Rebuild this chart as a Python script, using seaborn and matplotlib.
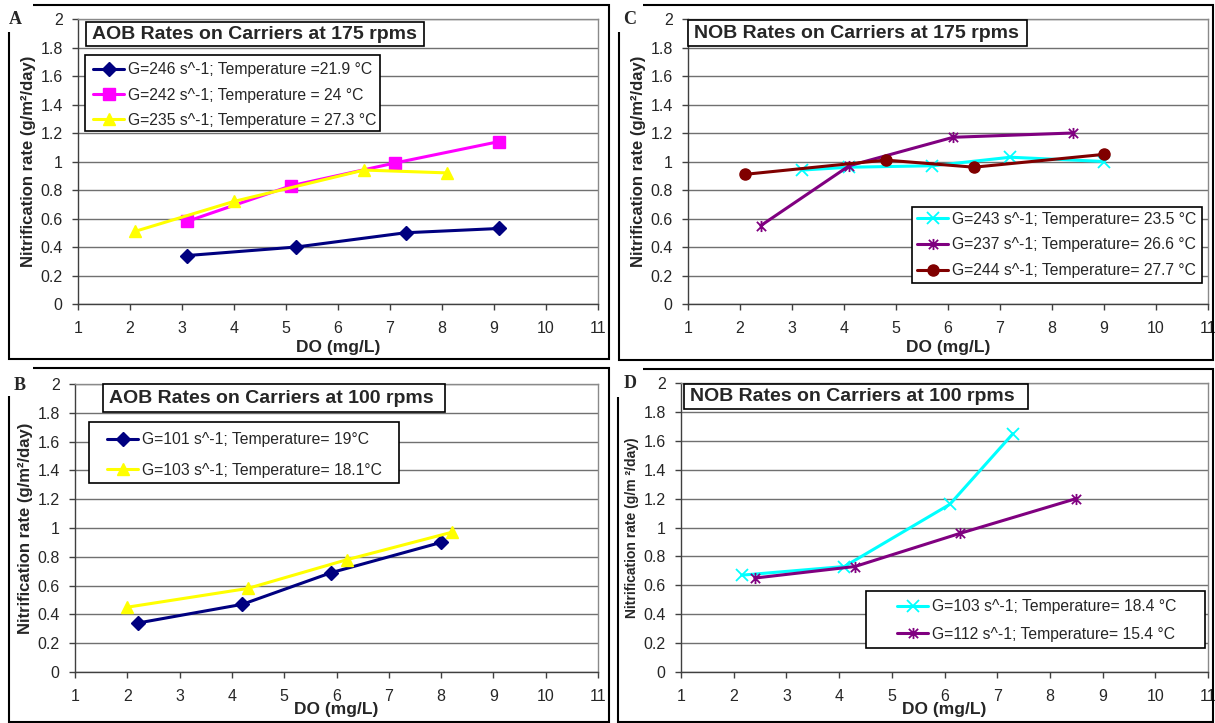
import matplotlib
matplotlib.use("Agg")
import matplotlib.pyplot as plt
import seaborn as sns
import pandas as pd
from matplotlib.path import Path
from matplotlib.patches import Rectangle
from matplotlib.ticker import FuncFormatter

sns.set_theme(style="white")
plt.rcParams["font.family"] = ["Liberation Sans", "DejaVu Sans"]

# ---------------- data ----------------
# Panel A : AOB 175 rpm
a_do_1 = [3.1, 5.2, 7.3, 9.1]
a_rate_1 = [0.34, 0.40, 0.50, 0.53]
a_do_2 = [3.1, 5.1, 7.1, 9.1]
a_rate_2 = [0.58, 0.83, 0.99, 1.14]
a_do_3 = [2.1, 4.0, 6.5, 8.1]
a_rate_3 = [0.51, 0.72, 0.94, 0.92]
a_labels = ["G=246 s^-1; Temperature =21.9 °C",
            "G=242 s^-1; Temperature = 24 °C",
            "G=235 s^-1; Temperature = 27.3 °C"]

# Panel C : NOB 175 rpm
c_do_1 = [3.2, 4.1, 5.7, 7.2, 9.0]
c_rate_1 = [0.94, 0.96, 0.97, 1.03, 1.00]
c_do_2 = [2.4, 4.1, 6.1, 8.4]
c_rate_2 = [0.55, 0.97, 1.17, 1.20]
c_do_3 = [2.1, 4.8, 6.5, 9.0]
c_rate_3 = [0.91, 1.01, 0.96, 1.05]
c_labels = ["G=243 s^-1; Temperature= 23.5 °C",
            "G=237 s^-1; Temperature= 26.6 °C",
            "G=244 s^-1; Temperature= 27.7 °C"]

# Panel B : AOB 100 rpm
b_do_1 = [2.2, 4.2, 5.9, 8.0]
b_rate_1 = [0.34, 0.47, 0.69, 0.90]
b_do_2 = [2.0, 4.3, 6.2, 8.2]
b_rate_2 = [0.45, 0.58, 0.78, 0.97]
b_labels = ["G=101 s^-1; Temperature= 19°C",
            "G=103 s^-1; Temperature= 18.1°C"]

# Panel D : NOB 100 rpm
d_do_1 = [2.15, 4.1, 6.1, 7.3]
d_rate_1 = [0.67, 0.73, 1.16, 1.65]
d_do_2 = [2.4, 4.3, 6.3, 8.5]
d_rate_2 = [0.65, 0.73, 0.96, 1.20]
d_labels = ["G=103 s^-1; Temperature= 18.4 °C",
            "G=112 s^-1; Temperature= 15.4 °C"]

titles = ["AOB Rates on Carriers at 175 rpms",
          "NOB Rates on Carriers at 175 rpms",
          "AOB Rates on Carriers at 100 rpms",
          "NOB Rates on Carriers at 100 rpms"]
panel_letters = ["A", "C", "B", "D"]
x_ticks = list(range(1, 12))
y_ticks = [0, 0.2, 0.4, 0.6, 0.8, 1, 1.2, 1.4, 1.6, 1.8, 2]

# ---------------- styles ----------------
NAVY, MAGENTA, YELLOW = "#000080", "#FF00FF", "#FFFF00"
CYAN, PURPLE, DARKRED = "#00FFFF", "#800080", "#800000"
STAR = Path([(-1, -1), (1, 1), (-1, 1), (1, -1), (0, -1.2), (0, 1.2)],
            [Path.MOVETO, Path.LINETO, Path.MOVETO, Path.LINETO, Path.MOVETO, Path.LINETO])

W, H = 1215, 723
fig = plt.figure(figsize=(W / 100, H / 100), dpi=100)
fig.patch.set_facecolor("white")


def px_rect(x0, y0, x1, y1):
    return [x0 / W, 1 - y1 / H, (x1 - x0) / W, (y1 - y0) / H]


panels = [
    dict(ax=(78, 19, 598, 304), frame=(9, 5, 609, 359), letter=(15, 20), corner=(9, 5, 33, 32),
         series=[(a_do_1, a_rate_1, a_labels[0], NAVY, "D", 7),
                 (a_do_2, a_rate_2, a_labels[1], MAGENTA, "s", 8),
                 (a_do_3, a_rate_3, a_labels[2], YELLOW, "^", 9)],
         title_box=(86, 22, 424, 46), leg_box=(85, 55, 380, 131), leg_anchor=(93, 95), lsp=0.66,
         ylabel="Nitrification rate (g/m²/day)", ylsize=12, ylpad=3, xlpad=3),
    dict(ax=(688, 19, 1208, 304), frame=(619, 5, 1213, 360), letter=(630, 20), corner=(619, 5, 643, 32),
         series=[(c_do_1, c_rate_1, c_labels[0], CYAN, "x", 8),
                 (c_do_2, c_rate_2, c_labels[1], PURPLE, STAR, 8),
                 (c_do_3, c_rate_3, c_labels[2], DARKRED, "o", 8)],
         title_box=(688, 20, 1027, 46), leg_box=(912, 207, 1202, 283), leg_anchor=(917, 245), lsp=0.68,
         ylabel="Nitrification rate (g/m²/day)", ylsize=12, ylpad=3, xlpad=3),
    dict(ax=(75, 384, 598, 672), frame=(9, 368, 609, 722), letter=(20, 385), corner=(9, 368, 33, 396),
         series=[(b_do_1, b_rate_1, b_labels[0], NAVY, "D", 7),
                 (b_do_2, b_rate_2, b_labels[1], YELLOW, "^", 9)],
         title_box=(103, 384, 445, 412), leg_box=(89, 422, 399, 483), leg_anchor=(107, 455), lsp=0.97,
         ylabel="Nitrification rate (g/m²/day)", ylsize=12, ylpad=3, xlpad=-1),
    dict(ax=(681, 383, 1208, 672), frame=(618, 369, 1213, 722), letter=(630, 384), corner=(618, 369, 643, 397),
         series=[(d_do_1, d_rate_1, d_labels[0], CYAN, "x", 8),
                 (d_do_2, d_rate_2, d_labels[1], PURPLE, STAR, 8)],
         title_box=(684, 384, 1028, 409), leg_box=(866, 591, 1205, 648), leg_anchor=(897, 620.5), lsp=0.78,
         ylabel="Nitrification rate (g/m ²/day)", ylsize=10, ylpad=3, xlpad=-1),
]

for i, p in enumerate(panels):
    # panel frame
    fx0, fy0, fx1, fy1 = p["frame"]
    fig.add_artist(Rectangle((fx0 / W, 1 - fy1 / H), (fx1 - fx0) / W, (fy1 - fy0) / H,
                             transform=fig.transFigure, fill=False, ec="black", lw=1.5))
    cx0, cy0, cx1, cy1 = p["corner"]
    fig.add_artist(Rectangle((cx0 / W - 0.002, 1 - cy1 / H), (cx1 - cx0) / W + 0.002, (cy1 - cy0) / H + 0.004,
                             transform=fig.transFigure, fill=True, fc="white", ec="none"))
    fig.text(p["letter"][0] / W, 1 - p["letter"][1] / H, panel_letters[i],
             family=["Liberation Serif"], weight="bold", fontsize=13, ha="center", va="center")

    ax0, ay0, ax1, ay1 = p["ax"]

    def fx(x):
        return (x - ax0) / (ax1 - ax0)

    def fy(y):
        return (ay1 - y) / (ay1 - ay0)

    ax = fig.add_axes(px_rect(*p["ax"]))
    ax.set_facecolor("white")
    for xs, ys, lab, col, mk, ms in p["series"]:
        df = pd.DataFrame({"DO": xs, "rate": ys})
        sns.lineplot(data=df, x="DO", y="rate", ax=ax, color=col, marker=mk, markersize=ms,
                     markeredgecolor=col, markerfacecolor=col,
                     markeredgewidth=1.3 if (mk == "x" or mk is STAR) else 1,
                     linewidth=2.2, label=lab, sort=False, estimator=None)
    ax.set_xlim(1, 11)
    ax.set_ylim(0, 2)
    ax.set_xticks(x_ticks)
    ax.set_yticks(y_ticks)
    ax.yaxis.set_major_formatter(FuncFormatter(lambda v, _: "%g" % v))
    ax.grid(axis="y", color="#707070", lw=1)
    ax.grid(axis="x", visible=False)
    ax.set_axisbelow(True)
    for s in ("top", "right"):
        ax.spines[s].set_color("#8a8a8a")
        ax.spines[s].set_linewidth(1)
    for s in ("left", "bottom"):
        ax.spines[s].set_color("#404040")
        ax.spines[s].set_linewidth(1)
    ax.tick_params(axis="both", direction="out", length=4, width=1, color="#404040",
                   labelsize=11.5, bottom=True, left=True)
    ax.tick_params(axis="x", pad=8)
    ax.tick_params(axis="y", pad=7)
    ax.set_xlabel("DO (mg/L)", fontsize=12.5, weight="bold", labelpad=p["xlpad"])
    ax.set_ylabel(p["ylabel"], fontsize=p["ylsize"], weight="bold", labelpad=p["ylpad"])

    # title box
    tx0, ty0, tx1, ty1 = p["title_box"]
    ax.add_patch(Rectangle((fx(tx0), fy(ty1)), fx(tx1) - fx(tx0), fy(ty0) - fy(ty1), transform=ax.transAxes,
                           fc="white", ec="black", lw=1.2, zorder=5, clip_on=False))
    ax.text(fx(tx0 + 6), (fy(ty0) + fy(ty1)) / 2, titles[i], transform=ax.transAxes,
            fontsize=14, weight="bold", ha="left", va="center", zorder=6)

    # legend box + legend
    lx0, ly0, lx1, ly1 = p["leg_box"]
    ax.add_patch(Rectangle((fx(lx0), fy(ly1)), fx(lx1) - fx(lx0), fy(ly0) - fy(ly1), transform=ax.transAxes,
                           fc="white", ec="black", lw=1.2, zorder=6, clip_on=False))
    leg = ax.legend(loc="center left", bbox_to_anchor=(fx(p["leg_anchor"][0]), fy(p["leg_anchor"][1])),
                    fontsize=11.3, frameon=False, borderpad=0,
                    labelspacing=p["lsp"], handlelength=2.0, handletextpad=0.25,
                    borderaxespad=0, numpoints=1)
    leg.set_zorder(7)

fig.savefig("out.png", dpi=100, facecolor="white")
